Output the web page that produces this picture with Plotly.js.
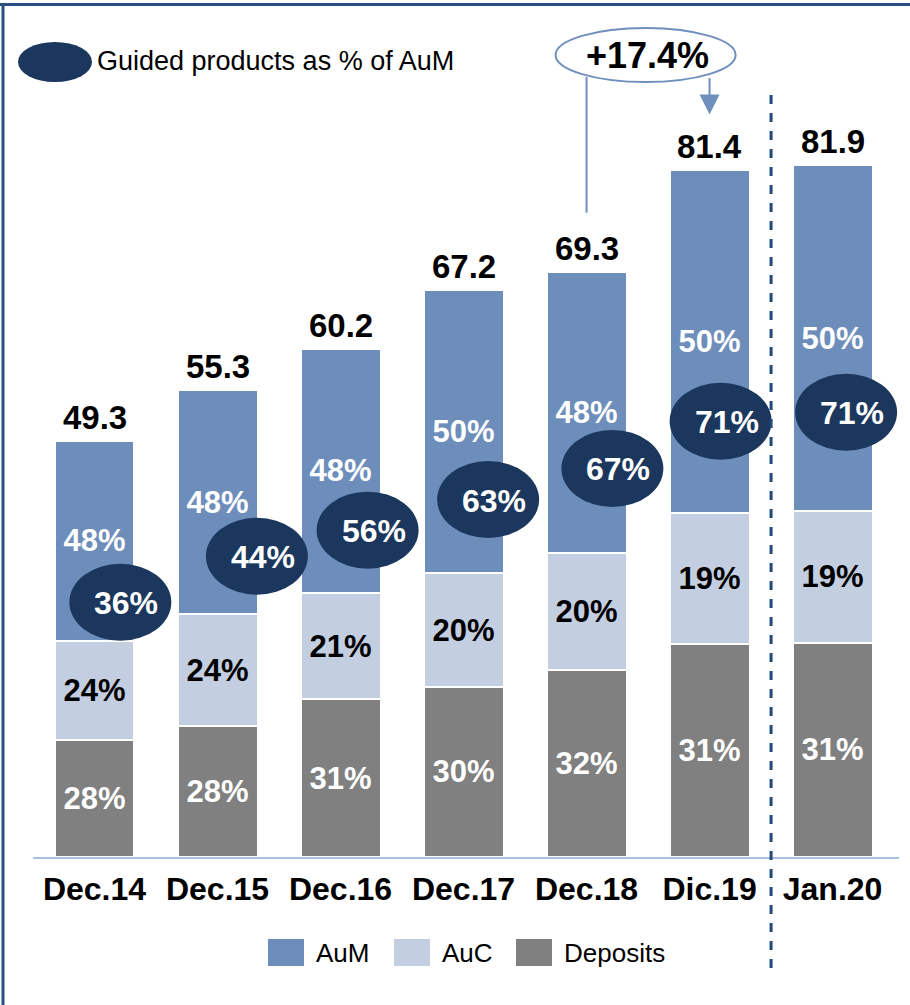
<!DOCTYPE html>
<html>
<head>
<meta charset="utf-8">
<script src="https://cdn.plot.ly/plotly-3.0.1.min.js"></script>
<style>
  html, body { margin: 0; padding: 0; background: #ffffff; }
  #chart { width: 910px; height: 1005px; }
</style>
</head>
<body>
<div id="chart"></div>
<script>
// ---------------- data ----------------
const categories = ["Dec.14", "Dec.15", "Dec.16", "Dec.17", "Dec.18", "Dic.19", "Jan.20"];
const totals     = [49.3, 55.3, 60.2, 67.2, 69.3, 81.4, 81.9];
const aumPct     = [48, 48, 48, 50, 48, 50, 50];
const aucPct     = [24, 24, 21, 20, 20, 19, 19];
const depPct     = [28, 28, 31, 30, 32, 31, 31];
const guidedPct  = [36, 44, 56, 63, 67, 71, 71];
const growthLabel = "+17.4%";

// ---------------- layout helpers ----------------
const W = 910, H = 1005;
const M = { l: 33, r: 11, t: 21, b: 148 };
const PW = W - M.l - M.r, PH = H - M.t - M.b;
const xRange = [-0.5, 6.54];
const yRange = [0, 99];
const px2pX = px => (px - M.l) / PW;
const px2pY = py => (H - M.b - py) / PH;
const unitPx = PH / (yRange[1] - yRange[0]);

// placement of the "guided" ellipses (fraction of bar height, offset in category units)
const ellYFrac = [0.612, 0.644, 0.643, 0.630, 0.664, 0.634, 0.643];
const ellDx    = [0.21, 0.32, 0.22, 0.20, 0.21, 0.09, 0.11];

const C_AUM = "#6d8dbb", C_AUC = "#c3cee1", C_DEP = "#808080";
const C_NAVY = "#1b375e", C_LINE = "#6f8fbd", C_DASH = "#1f497d";
const FONT = "Liberation Sans, Arial, sans-serif";

const seg = pcts => totals.map((t, i) => t * pcts[i] / 100);
const lbl = pcts => pcts.map(p => p + "%");

function barTrace(name, pcts, color, txtColor) {
  return {
    type: "bar", name: name, x: categories, y: seg(pcts),
    text: lbl(pcts), textposition: "inside", insidetextanchor: "middle",
    textangle: 0, constraintext: "none",
    textfont: { family: FONT, size: 31, color: txtColor, weight: "bold" },
    marker: { color: color, line: { color: "#ffffff", width: 2 } },
    hoverinfo: "skip", showlegend: false
  };
}

const traces = [
  barTrace("Deposits", depPct, C_DEP, "#ffffff"),
  barTrace("AuC", aucPct, C_AUC, "#000000"),
  barTrace("AuM", aumPct, C_AUM, "#ffffff")
];

const shapes = [];
const annotations = [];

// frame
shapes.push({ type: "line", xref: "paper", yref: "paper", x0: px2pX(0), x1: px2pX(W), y0: px2pY(4.5), y1: px2pY(4.5), line: { color: "#2b4f80", width: 3 } });
shapes.push({ type: "line", xref: "paper", yref: "paper", x0: px2pX(3), x1: px2pX(3), y0: px2pY(4.5), y1: px2pY(H), line: { color: "#2b4f80", width: 3 } });

// totals
categories.forEach((c, i) => {
  annotations.push({ x: i, y: totals[i], xref: "x", yref: "y", yanchor: "bottom", yshift: 3,
    text: "<b>" + totals[i].toFixed(1) + "</b>", showarrow: false,
    font: { family: FONT, size: 33, color: "#000000" } });
});

// guided ellipses
categories.forEach((c, i) => {
  const cx = i + ellDx[i];
  const cy = totals[i] * ellYFrac[i];
  shapes.push({ type: "circle", xref: "x", yref: "y", xsizemode: "pixel", ysizemode: "pixel",
    xanchor: cx, yanchor: cy, x0: -51, x1: 51, y0: -38.5, y1: 38.5,
    fillcolor: C_NAVY, line: { width: 0 }, layer: "above" });
  annotations.push({ x: cx, y: cy, xref: "x", yref: "y", xshift: 6, yshift: -1, showarrow: false,
    text: "<b>" + guidedPct[i] + "%</b>", font: { family: FONT, size: 32, color: "#ffffff" } });
});

// dashed separator between Dic.19 and Jan.20
const sepX = (5.5 - xRange[0]) / (xRange[1] - xRange[0]);
shapes.push({ type: "line", xref: "paper", yref: "paper", x0: sepX, x1: sepX, y0: px2pY(968), y1: px2pY(95),
  line: { color: C_DASH, width: 3, dash: "dash" }, layer: "above" });

// growth callout
const callX = 4.48, callY = (H - M.b - 55) / unitPx;
shapes.push({ type: "circle", xref: "x", yref: "y", xsizemode: "pixel", ysizemode: "pixel",
  xanchor: callX, yanchor: callY, x0: -90, x1: 90, y0: -27, y1: 27,
  fillcolor: "#ffffff", line: { color: C_LINE, width: 2 } });
annotations.push({ x: callX, y: callY, xref: "x", yref: "y", xshift: 2, showarrow: false,
  text: "<b>" + growthLabel + "</b>", font: { family: FONT, size: 36, color: "#000000" } });
// line down to Dec.18
shapes.push({ type: "line", xref: "x", yref: "y", x0: 4, x1: 4, y0: totals[4] + 7, y1: callY - 22 / unitPx,
  line: { color: C_LINE, width: 2 } });
// arrow down to Dic.19
annotations.push({ x: 5, y: totals[5] + 55 / unitPx, xref: "x", yref: "y",
  ax: 0, ay: -38, axref: "pixel", ayref: "pixel", text: "", showarrow: true,
  arrowhead: 2, arrowsize: 2, arrowwidth: 2, arrowcolor: C_LINE });

// legend: guided products
shapes.push({ type: "circle", xref: "paper", yref: "paper", xsizemode: "pixel", ysizemode: "pixel",
  xanchor: px2pX(55), yanchor: px2pY(62), x0: -37, x1: 37, y0: -20, y1: 20,
  fillcolor: C_NAVY, line: { width: 0 } });
annotations.push({ x: px2pX(95), y: px2pY(61), xref: "paper", yref: "paper", xanchor: "left", yanchor: "middle", showarrow: false,
  text: "Guided products as % of AuM", font: { family: FONT, size: 27, color: "#000000" } });

// legend: bar series
const legendItems = [["AuM", C_AUM, 268], ["AuC", C_AUC, 394], ["Deposits", C_DEP, 516]];
legendItems.forEach(([name, col, x]) => {
  shapes.push({ type: "rect", xref: "paper", yref: "paper", x0: px2pX(x), x1: px2pX(x + 36),
    y0: px2pY(966), y1: px2pY(939), fillcolor: col, line: { width: 0 } });
  annotations.push({ x: px2pX(x + 46), y: px2pY(953), xref: "paper", yref: "paper", xanchor: "left", yanchor: "middle",
    showarrow: false, text: name, font: { family: FONT, size: 26, color: "#000000" } });
});

const layout = {
  width: W, height: H,
  margin: M,
  paper_bgcolor: "#ffffff", plot_bgcolor: "#ffffff",
  barmode: "stack", bargap: 0.35,
  showlegend: false,
  xaxis: {
    type: "category", range: xRange, showgrid: false, zeroline: false,
    showline: true, linecolor: "#a9bedb", linewidth: 2, ticks: "",
    ticklabelstandoff: 3,
    tickfont: { family: FONT, size: 32, color: "#000000", weight: "bold" },
    fixedrange: true
  },
  yaxis: { range: yRange, visible: false, showgrid: false, zeroline: false, fixedrange: true },
  shapes: shapes,
  annotations: annotations
};

Plotly.newPlot("chart", traces, layout, { displayModeBar: false, staticPlot: true });
</script>
</body>
</html>
